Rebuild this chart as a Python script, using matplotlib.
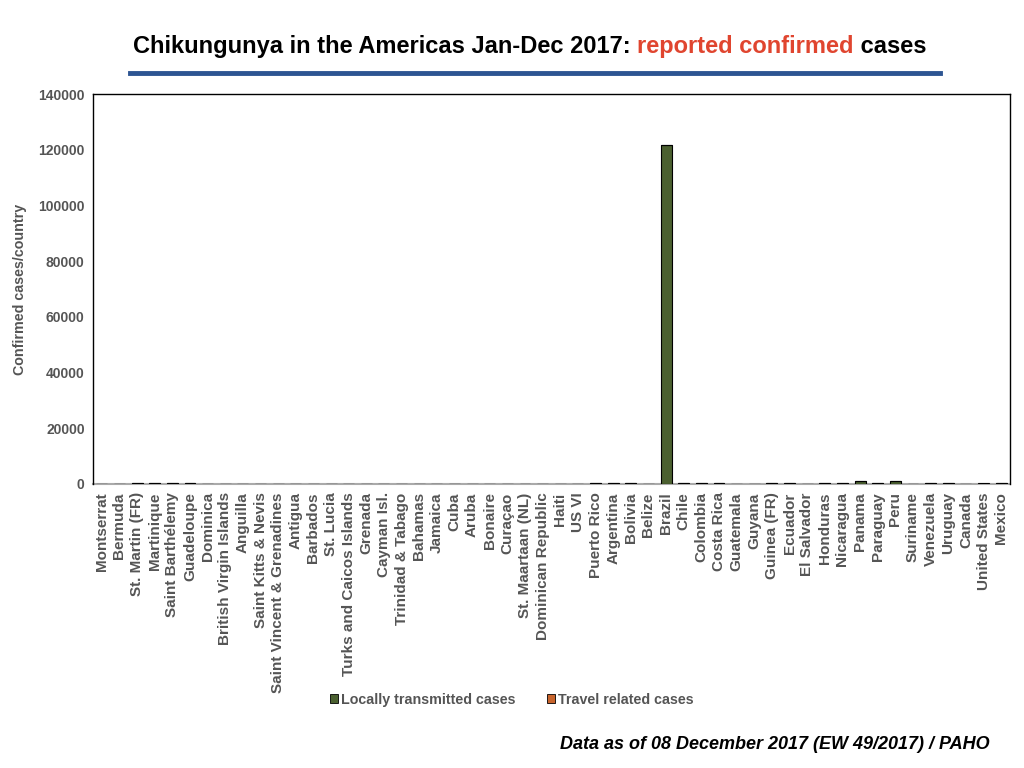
import matplotlib
matplotlib.use("Agg")
from matplotlib import pyplot as plt
from matplotlib.patches import Patch
import numpy as np

plt.rcParams['font.family'] = ['Liberation Sans', 'DejaVu Sans']

# Data
countries = ["Montserrat", "Bermuda", "St. Martin (FR)", "Martinique", "Saint Barthélemy",
             "Guadeloupe", "Dominica", "British Virgin Islands", "Anguilla", "Saint Kitts & Nevis",
             "Saint Vincent & Grenadines", "Antigua", "Barbados", "St. Lucia",
             "Turks and Caicos Islands", "Grenada", "Cayman Isl.", "Trinidad & Tabago", "Bahamas",
             "Jamaica", "Cuba", "Aruba", "Bonaire", "Curaçao", "St. Maartaan (NL)",
             "Dominican Republic", "Haiti", "US VI", "Puerto Rico", "Argentina", "Bolivia",
             "Belize", "Brazil", "Chile", "Colombia", "Costa Rica", "Guatemala", "Guyana",
             "Guinea (FR)", "Ecuador", "El Salvador", "Honduras", "Nicaragua", "Panama",
             "Paraguay", "Peru", "Suriname", "Venezuela", "Uruguay", "Canada", "United States",
             "Mexico"]

local_cases = [0, 0, 320, 380, 300, 350, 0, 0, 0, 0,
               0, 0, 0, 0, 0, 0, 0, 0, 0, 0,
               0, 0, 0, 0, 0, 0, 0, 0, 360, 340,
               380, 0, 121700, 300, 420, 380, 0, 0, 330, 360,
               0, 380, 350, 950, 350, 1000, 0, 340, 320, 0,
               0, 360]

travel_cases = [0, 0, 0, 0, 0, 0, 0, 0, 0, 0,
                0, 0, 0, 0, 0, 0, 0, 0, 0, 0,
                0, 0, 0, 0, 0, 0, 0, 0, 0, 0,
                0, 0, 0, 40, 0, 0, 0, 0, 0, 0,
                0, 0, 0, 0, 0, 0, 0, 0, 0, 0,
                330, 0]

green = '#4b6030'
orange = '#c8642c'
gray = '#555555'

fig = plt.figure(figsize=(10.24, 7.68), dpi=100)
ax = fig.add_axes([0.0908, 0.3698, 0.8955, 0.5078])

x = np.arange(len(countries))
ax.bar(x, local_cases, width=0.62, color=green, edgecolor='black', linewidth=0.8, zorder=3)
ax.bar(x, travel_cases, width=0.62, bottom=local_cases, color=orange, edgecolor='black',
       linewidth=0.8, zorder=3)

ax.set_xlim(-0.5, len(countries) - 0.5)
ax.set_ylim(0, 140000)
ax.set_yticks(range(0, 140001, 20000))
ax.set_xticks(x)
ax.set_xticklabels(countries, rotation=90, fontsize=11, fontweight='bold', color=gray)
for lab in ax.get_yticklabels():
    lab.set_fontsize(10)
    lab.set_fontweight('bold')
    lab.set_color(gray)
ax.tick_params(length=0, pad=6)
ax.set_ylabel('Confirmed cases/country', fontsize=10.3, fontweight='bold', color=gray, labelpad=8)

for s in ['left', 'top', 'right']:
    ax.spines[s].set_color('black')
    ax.spines[s].set_linewidth(1)
ax.spines['bottom'].set_color('#aaaaaa')
ax.spines['bottom'].set_linewidth(1.5)
ax.spines['bottom'].set_zorder(1)

# Title in three colours
ty = 0.94
t1 = fig.text(0.13, ty, 'Chikungunya in the Americas Jan-Dec 2017: ', fontsize=17,
              fontweight='bold', color='black', va='center')
t2 = fig.text(0, 0, 'reported confirmed', fontsize=17, fontweight='bold', color='#e0452f',
              va='center')
t3 = fig.text(0, 0, ' cases', fontsize=17, fontweight='bold', color='black', va='center')
fig.canvas.draw()
r = fig.canvas.get_renderer()
b1 = t1.get_window_extent(r)
t2.set_position((b1.x1 / fig.bbox.width, ty))
b2 = t2.get_window_extent(r)
t3.set_position((b2.x1 / fig.bbox.width, ty))

fig.add_artist(plt.Line2D([0.127, 0.918], [0.905, 0.905], color='#2d5592', linewidth=3.5,
                          transform=fig.transFigure))

handles = [Patch(facecolor=green, edgecolor='black', linewidth=0.6),
           Patch(facecolor=orange, edgecolor='black', linewidth=0.6)]
leg = fig.legend(handles, ['Locally transmitted cases', 'Travel related cases'],
                 loc='center', bbox_to_anchor=(0.5, 0.089), ncol=2, frameon=False,
                 handlelength=0.55, handleheight=0.55, handletextpad=0.2, columnspacing=2.2,
                 prop={'weight': 'bold', 'size': 10.3})
for txt in leg.get_texts():
    txt.set_color(gray)

fig.text(0.966, 0.031, 'Data as of 08 December 2017 (EW 49/2017) / PAHO', fontsize=13,
         fontweight='bold', fontstyle='italic', ha='right', va='center')

fig.savefig('out.png', dpi=100)
